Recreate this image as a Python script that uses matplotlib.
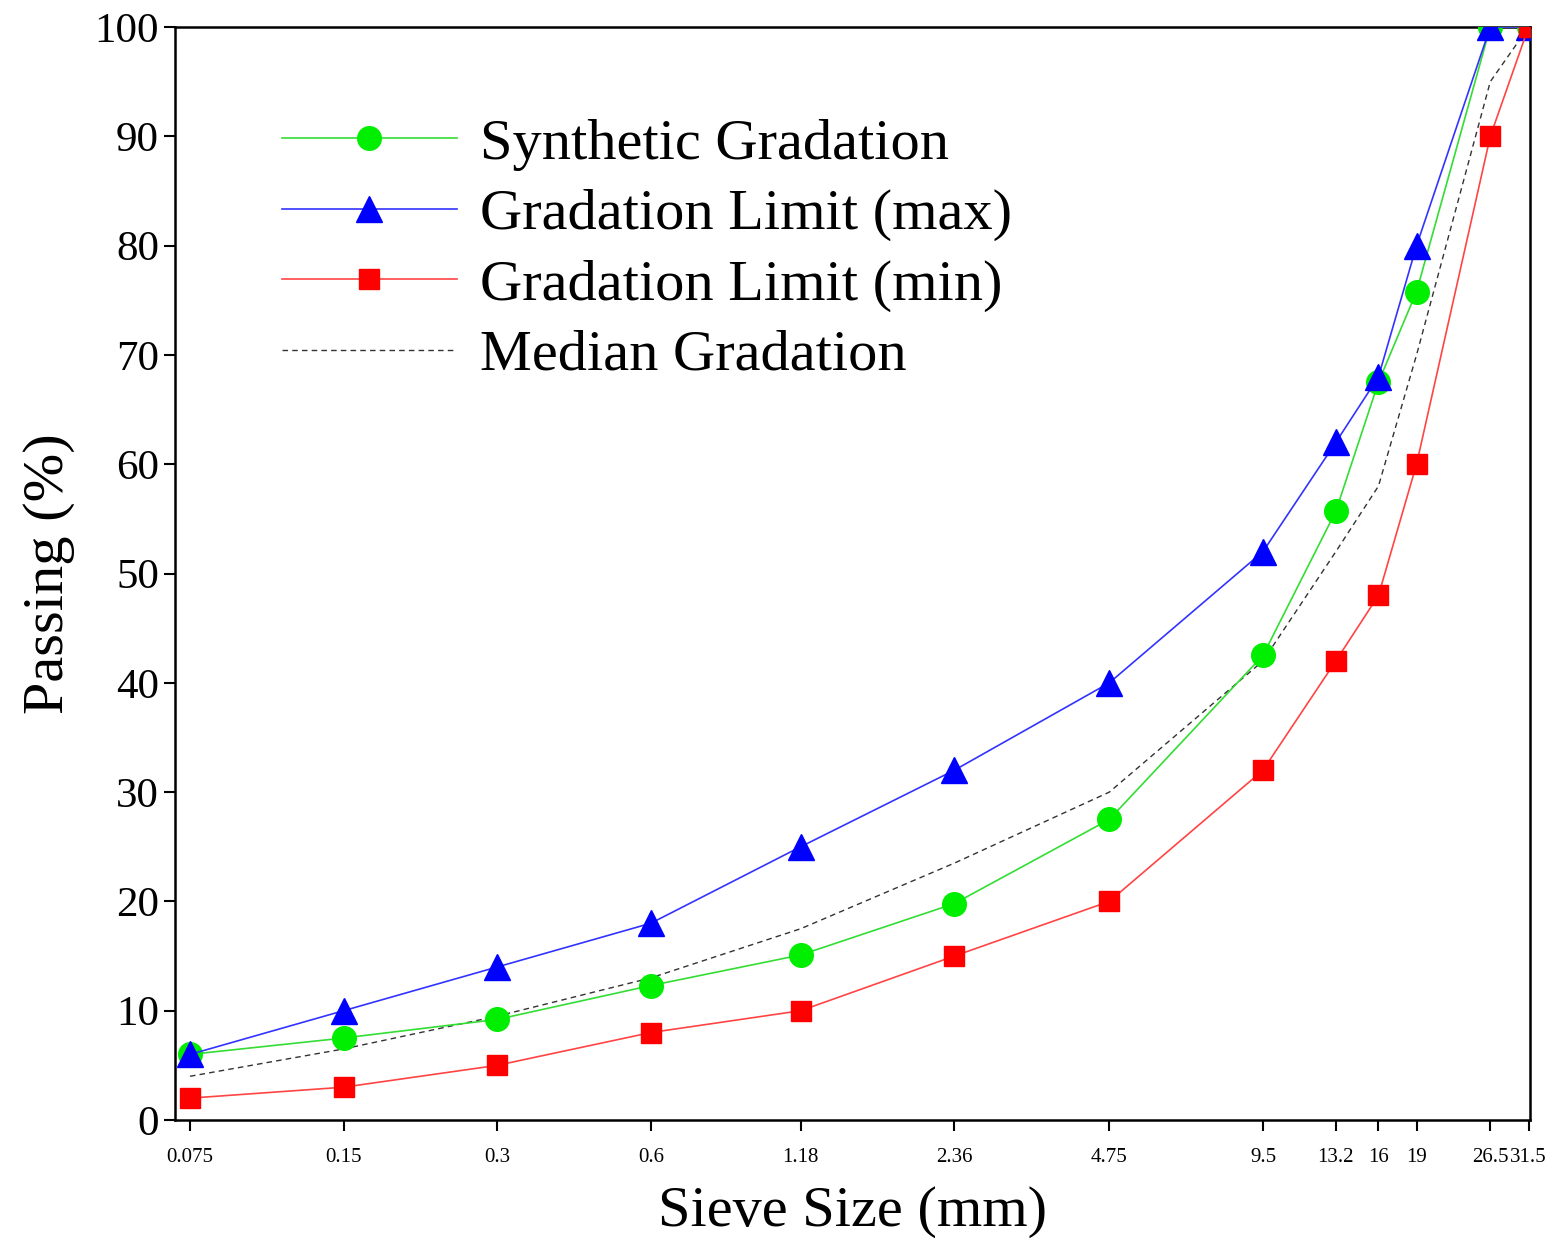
import matplotlib
matplotlib.use("Agg")
import matplotlib.pyplot as plt
from matplotlib.ticker import FixedLocator, NullLocator

sieve = [0.075, 0.15, 0.3, 0.6, 1.18, 2.36, 4.75, 9.5, 13.2, 16, 19, 26.5, 31.5]
sieve_labels = ["0.075", "0.15", "0.3", "0.6", "1.18", "2.36", "4.75",
                "9.5", "13.2", "16", "19", "26.5", "31.5"]
synthetic = [6, 7.5, 9.2, 12.3, 15.1, 19.8, 27.5, 42.5, 55.7, 67.5, 75.8, 100, 100]
limit_max = [6, 10, 14, 18, 25, 32, 40, 52, 62, 68, 80, 100, 100]
limit_min = [2, 3, 5, 8, 10, 15, 20, 32, 42, 48, 60, 90, 100]
median = [4, 6.5, 9.5, 13, 17.5, 23.5, 30, 42, 52, 58, 70, 95, 100]

plt.rcParams["font.family"] = "Liberation Serif"
fig = plt.figure(figsize=(15.59, 12.59), dpi=100)
ax = fig.add_axes([175 / 1559, 1 - 1120 / 1259, 1355 / 1559, 1093 / 1259])

ax.plot(sieve, synthetic, color="#33dd33", lw=1.2, marker="o", ms=17,
        mfc="#00ee00", mec="#00ee00", label="Synthetic Gradation", zorder=3)
ax.plot(sieve, limit_max, color="#3333ff", lw=1.2, marker="^", ms=19,
        mfc="#0000ff", mec="#0000ff", label="Gradation Limit (max)", zorder=3)
ax.plot(sieve, limit_min, color="#ff4444", lw=1.2, marker="s", ms=15,
        mfc="#ff0000", mec="#ff0000", label="Gradation Limit (min)", zorder=3)
ax.plot(sieve, median, color="#333333", lw=1.0, ls="--", dashes=(4, 3),
        label="Median Gradation", zorder=2)

ax.set_xscale("log")
ax.set_xlim(0.0701, 31.7)
ax.set_ylim(0, 100)
ax.xaxis.set_major_locator(FixedLocator(sieve))
ax.xaxis.set_minor_locator(NullLocator())
ax.set_xticklabels(sieve_labels, fontsize=15)
ax.set_yticks(range(0, 101, 10))
ax.tick_params(axis="y", labelsize=31, length=8, width=1.5)
ax.tick_params(axis="x", length=8, width=1.5, pad=12)
for s in ax.spines.values():
    s.set_linewidth(1.8)

ax.set_xlabel("Sieve Size (mm)", fontsize=42, labelpad=14)
ax.set_ylabel("Passing (%)", fontsize=42, labelpad=14)

ax.legend(loc="upper left", bbox_to_anchor=(0.04, 0.965), frameon=False,
          fontsize=42, handlelength=3.0, handletextpad=0.4, labelspacing=0.3)

fig.savefig("out.png", dpi=100)
